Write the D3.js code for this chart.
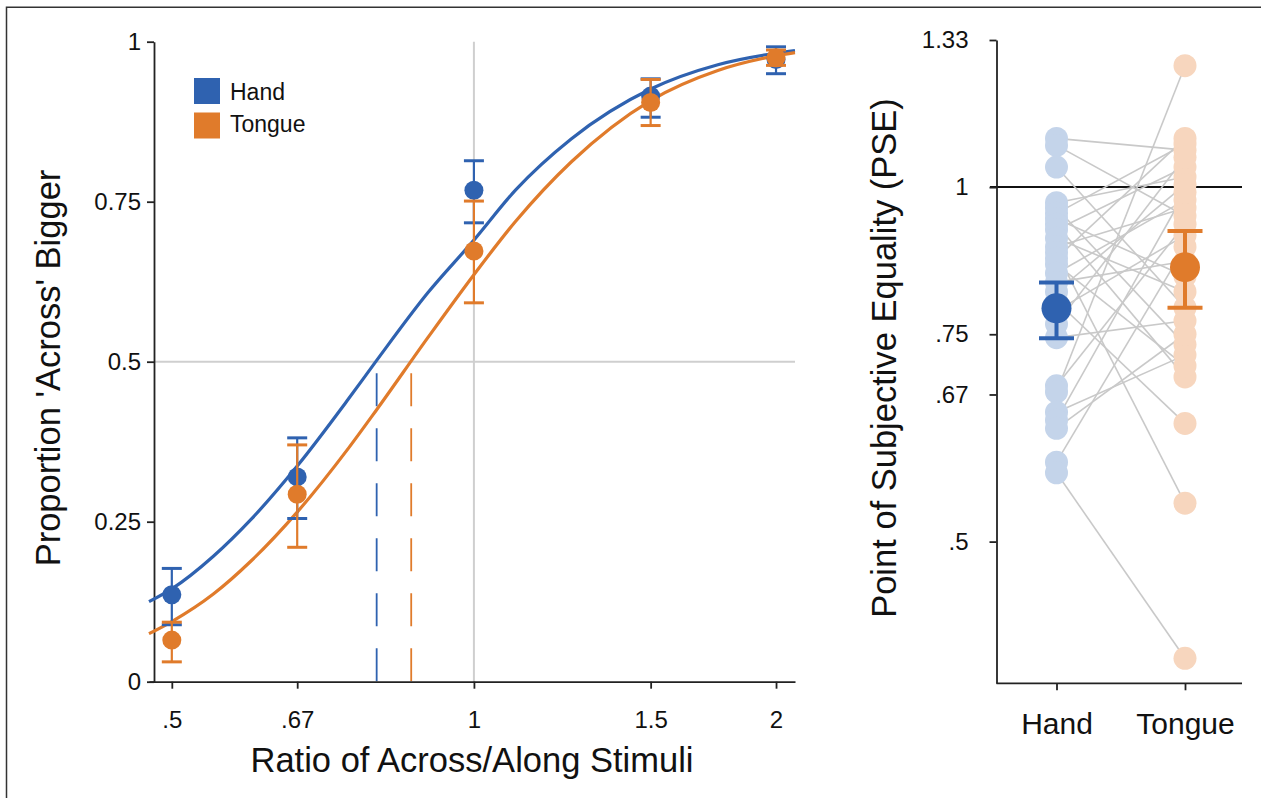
<!DOCTYPE html>
<html><head><meta charset="utf-8">
<script src="https://cdn.jsdelivr.net/npm/d3@7"></script>
<style>
body{margin:0;background:#fff}
svg{display:block}
text{font-family:"Liberation Sans", Arial, Helvetica, sans-serif; fill:#111}
</style>
</head><body>
<svg id="c" width="1261" height="798"></svg>
<script>
// ---------------- data ----------------
const seriesNames = ["Hand", "Tongue"];
const ratioTicks = [0.5, 2/3, 1, 1.5, 2];
const ratioTickLabels = [".5", ".67", "1", "1.5", "2"];
const propTicks = [0, 0.25, 0.5, 0.75, 1];
const propTickLabels = ["0", "0.25", "0.5", "0.75", "1"];

const stimRatios = [0.5, 2/3, 1, 1.5, 2];
const handProp  = [0.136, 0.320, 0.768, 0.915, 0.972];
const handLo    = [0.089, 0.255, 0.717, 0.882, 0.950];
const handHi    = [0.177, 0.381, 0.814, 0.942, 0.992];
const tongueProp = [0.065, 0.293, 0.673, 0.905, 0.975];
const tongueLo   = [0.031, 0.210, 0.592, 0.869, 0.963];
const tongueHi   = [0.093, 0.370, 0.751, 0.941, 0.987];

// fitted psychometric curves
const curveRatios = [0.4745, 0.5, 0.55, 0.6, 2/3, 0.75, 0.8, 0.9, 1, 1.1, 1.25, 1.5, 1.75, 2, 2.089];
const handCurve   = [0.125, 0.145, 0.196, 0.254, 0.337, 0.442, 0.502, 0.608, 0.690, 0.768, 0.848, 0.926, 0.964, 0.982, 0.986];
const tongueCurve = [0.075, 0.094, 0.137, 0.189, 0.265, 0.365, 0.425, 0.538, 0.636, 0.719, 0.812, 0.908, 0.955, 0.978, 0.983];
const pseFit = [0.80, 0.866];

// right panel: individual PSEs (paired) and group means with CI
const pseTicks = [0.5, 2/3, 0.75, 1, 4/3];
const pseTickLabels = [".5", ".67", ".75", "1", "1.33"];
const handPSE   = [1.10, 1.085, 1.04, 0.97, 0.96, 0.95, 0.94, 0.93, 0.92, 0.905, 0.89, 0.88, 0.87, 0.86, 0.845, 0.83, 0.815, 0.80, 0.785, 0.765, 0.745, 0.678, 0.670, 0.644, 0.634, 0.624, 0.584, 0.572];
const tonguePSE = [1.075, 0.945, 0.79, 1.02, 0.735, 1.088, 0.84, 0.69, 1.04, 0.815, 0.96, 0.539, 1.10, 0.705, 0.975, 0.865, 1.005, 0.630, 0.91, 1.06, 0.77, 0.93, 1.268, 0.72, 0.99, 0.75, 0.89, 0.398];
const pseMean = [0.789, 0.855];
const pseLo   = [0.744, 0.790];
const pseHi   = [0.830, 0.918];

// ---------------- style ----------------
const C = {hand:"#2f62b0", tongue:"#e07b2b", handLight:"#c4d4ea", tongueLight:"#f7d6be",
           grid:"#cfcfcf", pair:"#c9c9c9", axis:"#222"};

const svg = d3.select("#c");

// frame (top and left edges)
svg.append("path").attr("d","M6.5,798V7.3H1261").attr("fill","none").attr("stroke","#333").attr("stroke-width",1.5);

// ---------------- left panel ----------------
const x = d3.scaleLog().base(2).domain([0.4745, 2.089]).range([149, 795]);
const y = d3.scaleLinear().domain([0, 1]).range([681.7, 41.7]);

const L = svg.append("g");

// reference lines
L.append("line").attr("x1", x(1)).attr("x2", x(1)).attr("y1", y(1)).attr("y2", y(0))
  .attr("stroke", C.grid).attr("stroke-width", 2);
L.append("line").attr("x1", 154).attr("x2", 795).attr("y1", y(0.5)).attr("y2", y(0.5))
  .attr("stroke", C.grid).attr("stroke-width", 2);

// PSE dashed lines
[C.hand, C.tongue].forEach((col, i) => {
  L.append("line").attr("x1", x(pseFit[i])).attr("x2", x(pseFit[i]))
    .attr("y1", y(0.5) + 11.5).attr("y2", y(0))
    .attr("stroke", col).attr("stroke-width", 1.8).attr("stroke-dasharray", "33,22");
});

// axes
const xAx = L.append("g").attr("transform", `translate(0,${y(0)})`)
  .call(d3.axisBottom(x).tickValues(ratioTicks).tickFormat((d, i) => ratioTickLabels[i])
        .tickSize(7).tickSizeOuter(0).tickPadding(22));
const yAx = L.append("g").attr("transform", `translate(154,0)`)
  .call(d3.axisLeft(y).tickValues(propTicks).tickFormat((d, i) => propTickLabels[i])
        .tickSize(7).tickSizeOuter(0).tickPadding(6));
[xAx, yAx].forEach(g => {
  g.selectAll("path,line").attr("stroke", C.axis).attr("stroke-width", 1.8);
  g.selectAll("text").attr("font-size", 24).attr("fill", "#111")
   .attr("font-family", '"Liberation Sans", Arial, sans-serif');
});

// curves
const line = d3.line().x(d => x(d[0])).y(d => y(d[1])).curve(d3.curveMonotoneX);
L.append("path").datum(curveRatios.map((r, i) => [r, handCurve[i]]))
  .attr("d", line).attr("fill", "none").attr("stroke", C.hand).attr("stroke-width", 3.2);
L.append("path").datum(curveRatios.map((r, i) => [r, tongueCurve[i]]))
  .attr("d", line).attr("fill", "none").attr("stroke", C.tongue).attr("stroke-width", 3.2);

// points with error bars
function drawPoints(vals, lo, hi, col) {
  const g = L.append("g");
  stimRatios.forEach((r, i) => {
    const cx = x(r);
    g.append("line").attr("x1", cx).attr("x2", cx).attr("y1", y(lo[i])).attr("y2", y(hi[i]))
      .attr("stroke", col).attr("stroke-width", 2.2);
    [lo[i], hi[i]].forEach(v => g.append("line").attr("x1", cx - 10).attr("x2", cx + 10)
      .attr("y1", y(v)).attr("y2", y(v)).attr("stroke", col).attr("stroke-width", 3));
    g.append("circle").attr("cx", cx).attr("cy", y(vals[i])).attr("r", 9.5).attr("fill", col);
  });
}
drawPoints(handProp, handLo, handHi, C.hand);
drawPoints(tongueProp, tongueLo, tongueHi, C.tongue);

// legend
[C.hand, C.tongue].forEach((col, i) => {
  L.append("rect").attr("x", 194).attr("y", 78 + i * 34.5).attr("width", 26).attr("height", 26).attr("fill", col);
  L.append("text").attr("x", 230).attr("y", 99.5 + i * 32.5).attr("font-size", 23).text(seriesNames[i]);
});

// titles
L.append("text").attr("x", 472).attr("y", 772).attr("text-anchor", "middle").attr("font-size", 34.5)
  .text("Ratio of Across/Along Stimuli");
L.append("text").attr("transform", "translate(60,368) rotate(-90)").attr("text-anchor", "middle")
  .attr("font-size", 34.5).text("Proportion 'Across' Bigger");

// ---------------- right panel ----------------
const yP = d3.scaleLog().domain([0.379, 4/3]).range([683.3, 40]);
const xP = d3.scalePoint().domain(seriesNames).range([1056.5, 1185]);
const R = svg.append("g");

// reference line at 1
R.append("line").attr("x1", 990).attr("x2", 1242).attr("y1", yP(1)).attr("y2", yP(1))
  .attr("stroke", "#111").attr("stroke-width", 2);

// pair lines
handPSE.forEach((h, i) => {
  R.append("line").attr("x1", xP("Hand")).attr("x2", xP("Tongue"))
    .attr("y1", yP(h)).attr("y2", yP(tonguePSE[i]))
    .attr("stroke", C.pair).attr("stroke-width", 1.6);
});
// individual points
handPSE.forEach(v => R.append("circle").attr("cx", xP("Hand")).attr("cy", yP(v)).attr("r", 11.5).attr("fill", C.handLight));
tonguePSE.forEach(v => R.append("circle").attr("cx", xP("Tongue")).attr("cy", yP(v)).attr("r", 11.5).attr("fill", C.tongueLight));

// means with CI
[C.hand, C.tongue].forEach((col, i) => {
  const cx = xP(seriesNames[i]);
  R.append("line").attr("x1", cx).attr("x2", cx).attr("y1", yP(pseLo[i])).attr("y2", yP(pseHi[i]))
    .attr("stroke", col).attr("stroke-width", 4);
  [pseLo[i], pseHi[i]].forEach(v => R.append("line").attr("x1", cx - 17.5).attr("x2", cx + 17.5)
    .attr("y1", yP(v)).attr("y2", yP(v)).attr("stroke", col).attr("stroke-width", 4));
  R.append("circle").attr("cx", cx).attr("cy", yP(pseMean[i])).attr("r", 15).attr("fill", col);
});

// axes
const yPAx = R.append("g").attr("transform", "translate(996.5,0)")
  .call(d3.axisLeft(yP).tickValues(pseTicks).tickFormat((d, i) => pseTickLabels[i])
        .tickSize(7).tickSizeOuter(0).tickPadding(21));
const xPAx = R.append("g").attr("transform", `translate(0,683.3)`)
  .call(d3.axisBottom(xP).tickSize(7).tickSizeOuter(0).tickPadding(22));
xPAx.select(".domain").remove();
R.append("line").attr("x1", 996.5).attr("x2", 1242).attr("y1", 683.3).attr("y2", 683.3)
  .attr("stroke", C.axis).attr("stroke-width", 1.8);
[yPAx, xPAx].forEach(g => {
  g.selectAll("path,line").attr("stroke", C.axis).attr("stroke-width", 1.8);
  g.selectAll("text").attr("fill", "#111").attr("font-family", '"Liberation Sans", Arial, sans-serif');
});
yPAx.selectAll("text").attr("font-size", 24);
xPAx.selectAll("text").attr("font-size", 30);

R.append("text").attr("transform", "translate(896,358) rotate(-90)").attr("text-anchor", "middle")
  .attr("font-size", 34.5).text("Point of Subjective Equality (PSE)");
</script>
</body></html>
